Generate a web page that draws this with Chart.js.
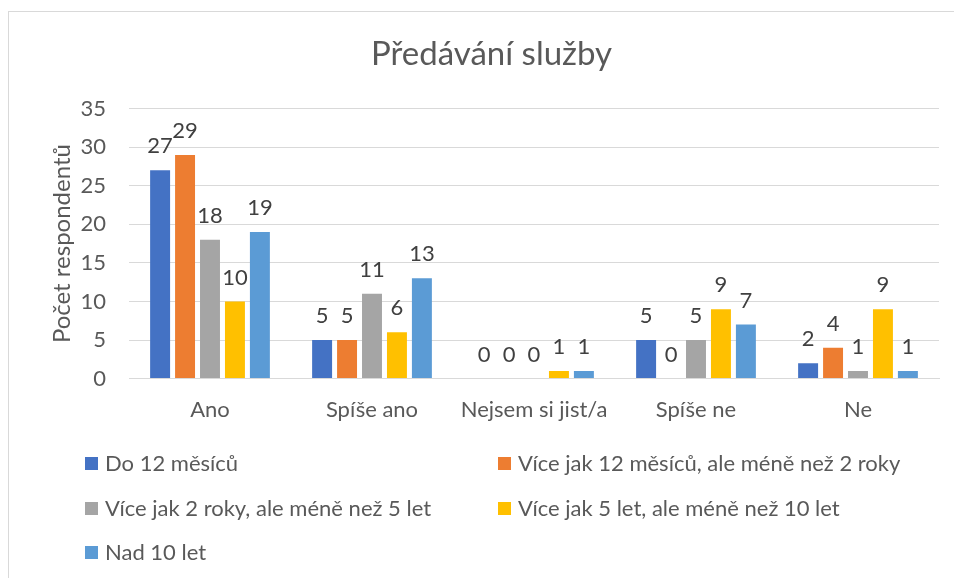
<!DOCTYPE html>
<html lang="cs">
<head>
<meta charset="utf-8">
<title>Předávání služby</title>
<script src="https://cdn.jsdelivr.net/npm/chart.js@4.4.1/dist/chart.umd.min.js"></script>
<style>
  html, body { margin: 0; padding: 0; background: #fff; }
  #wrap { width: 954px; height: 578px; }
</style>
</head>
<body>
<div id="wrap"><canvas id="myChart" width="954" height="578"></canvas></div>
<script>
// data
const categories = ['Ano', 'Spíše ano', 'Nejsem si jist/a', 'Spíše ne', 'Ne'];
const seriesNames = [
    'Do 12 měsíců',
    'Více jak 12 měsíců, ale méně než 2 roky',
    'Více jak 2 roky, ale méně než 5 let',
    'Více jak 5 let, ale méně než 10 let',
    'Nad 10 let'
];
const do12m = [27, 5, 0, 5, 2];
const od12mDo2r = [29, 5, 0, 0, 4];
const od2rDo5l = [18, 11, 0, 5, 1];
const od5lDo10l = [10, 6, 1, 9, 9];
const nad10l = [19, 13, 1, 7, 1];
const yTicks = [0, 5, 10, 15, 20, 25, 30, 35];

const colors = ['#4472C4', '#ED7D31', '#A5A5A5', '#FFC000', '#5B9BD5'];
const textColor = '#595959';
const gridColor = '#D9D9D9';
const fontFamily = 'Lato, "Noto Sans", sans-serif';

const seriesValues = [do12m, od12mDo2r, od2rDo5l, od5lDo10l, nad10l];

// white background + the thin chart frame, like the Excel chart object
const frame = {
    id: 'frame',
    beforeDraw(chart) {
        const ctx = chart.ctx;
        ctx.save();
        ctx.fillStyle = '#fff';
        ctx.fillRect(0, 0, chart.width, chart.height);
        ctx.strokeStyle = gridColor;
        ctx.lineWidth = 1;
        ctx.strokeRect(8.5, 11.5, chart.width + 20, chart.height + 20);
        ctx.restore();
    }
};

// value above each bar
const valueLabels = {
    id: 'valueLabels',
    afterDatasetsDraw(chart) {
        const ctx = chart.ctx;
        ctx.save();
        ctx.font = '22px ' + fontFamily;
        ctx.fillStyle = '#404040';
        ctx.textAlign = 'center';
        ctx.textBaseline = 'middle';
        chart.data.datasets.forEach((ds, i) => {
            const meta = chart.getDatasetMeta(i);
            meta.data.forEach((bar, j) => {
                ctx.fillText(String(ds.data[j]), bar.x, bar.y - 24);
            });
        });
        ctx.restore();
    }
};

// legend laid out in two columns like Excel does it
const gridLegend = {
    id: 'gridLegend',
    afterDraw(chart, args, opts) {
        const ctx = chart.ctx;
        ctx.save();
        ctx.font = opts.fontSize + 'px ' + fontFamily;
        ctx.textBaseline = 'middle';
        ctx.textAlign = 'left';
        chart.data.datasets.forEach((ds, i) => {
            const col = i % 2;
            const row = Math.floor(i / 2);
            const x = opts.columns[col];
            const y = opts.rows[row];
            ctx.fillStyle = ds.backgroundColor;
            ctx.fillRect(x, y - 6, 13, 13);
            ctx.fillStyle = textColor;
            ctx.fillText(ds.label, x + 20, y + 1);
        });
        ctx.restore();
    }
};

const datasets = seriesNames.map((name, i) => ({
    label: name,
    data: seriesValues[i],
    backgroundColor: colors[i],
    borderWidth: 0,
    categoryPercentage: 0.77,
    barPercentage: 0.8
}));

const ctx = document.getElementById('myChart').getContext('2d');
window.myBar = new Chart(ctx, {
    type: 'bar',
    data: {
        labels: categories,
        datasets: datasets
    },
    options: {
        responsive: false,
        animation: false,
        devicePixelRatio: 1,
        layout: {
            padding: { left: 44, right: 15, top: 0, bottom: 137 }
        },
        plugins: {
            legend: { display: false },
            tooltip: { enabled: false },
            title: {
                display: true,
                text: 'Předávání služby',
                color: textColor,
                font: { family: fontFamily, size: 33, weight: 'normal' },
                padding: { top: 35, bottom: 34 }
            },
            gridLegend: {
                fontSize: 22,
                columns: [85, 498],
                rows: [463, 508, 552]
            }
        },
        scales: {
            x: {
                grid: { display: false, drawTicks: false },
                border: { display: true, color: gridColor },
                ticks: {
                    color: textColor,
                    font: { family: fontFamily, size: 22 },
                    padding: 18
                }
            },
            y: {
                min: 0,
                max: 35,
                afterBuildTicks(scale) {
                    scale.ticks = yTicks.map(v => ({ value: v }));
                },
                afterFit(scale) {
                    scale.width = 85;
                },
                grid: { color: gridColor, drawTicks: false },
                border: { display: false },
                ticks: {
                    color: textColor,
                    font: { family: fontFamily, size: 22 },
                    padding: 23
                },
                title: {
                    display: true,
                    text: 'Počet respondentů',
                    color: textColor,
                    font: { family: fontFamily, size: 24 },
                    padding: { top: 4, bottom: 4 }
                }
            }
        }
    },
    plugins: [frame, valueLabels, gridLegend]
});
</script>
</body>
</html>
